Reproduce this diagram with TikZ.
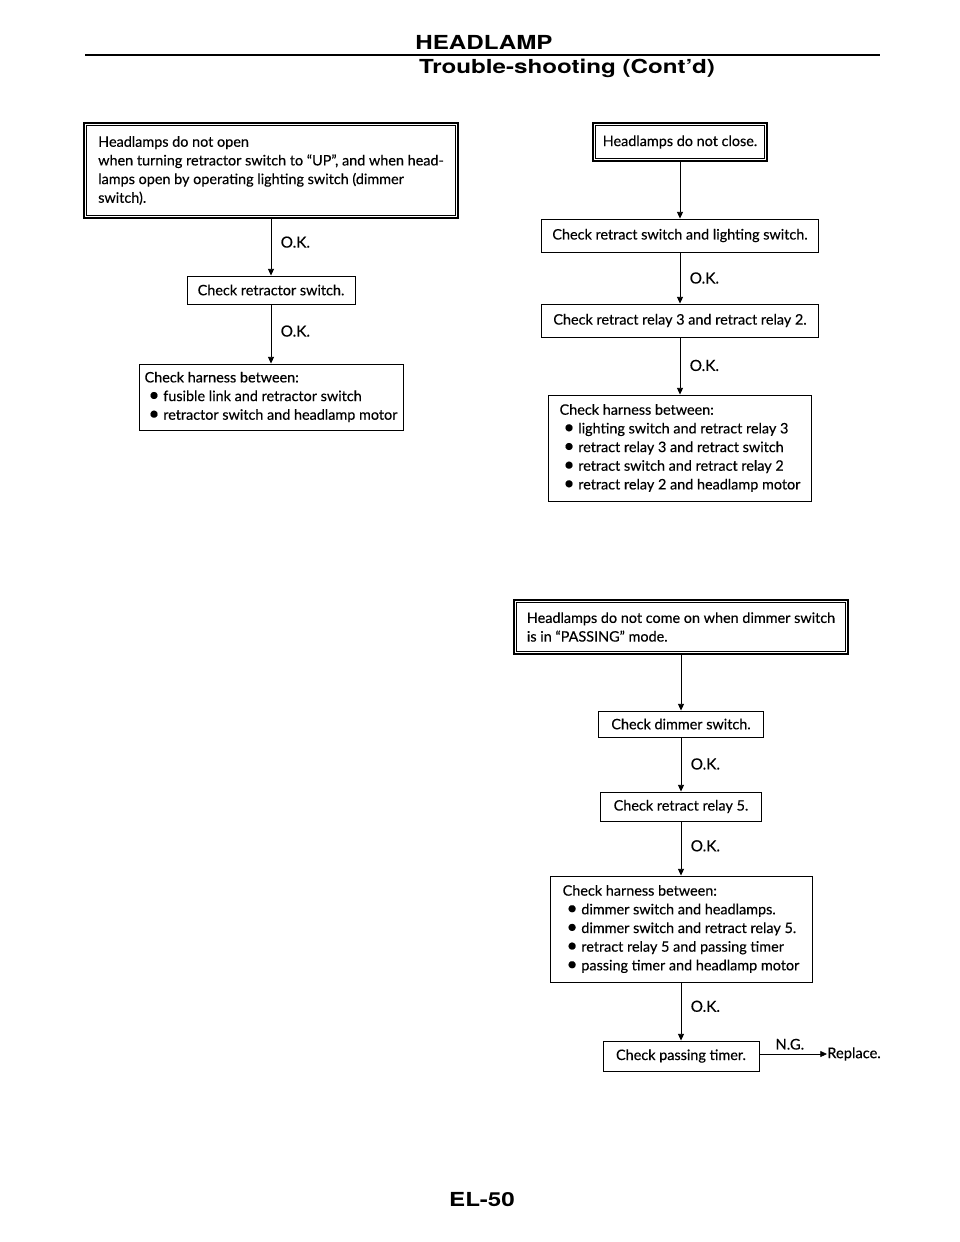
\documentclass[tikz,border=0pt]{standalone}
\usepackage{fontspec}
\setmainfont{Lato}[FakeBold=0.3]
\newfontfamily\headf[FakeStretch=1.25]{TeX Gyre Heros}
\usetikzlibrary{arrows.meta}
\newcommand{\bl}{\hspace*{3pt}\makebox[11pt][l]{\smash{\scalebox{1.3}{\textbullet}}}}
\begin{document}
\begin{tikzpicture}[x=0.75pt,y=-0.75pt,
  box/.style={draw, line width=0.7pt, inner sep=0pt, font=\fontsize{10.8}{14}\selectfont, align=left},
  dbox/.style={box, line width=1.3pt},
  inner/.style={line width=0.6pt},
  arr/.style={-{Triangle[length=5pt,width=4.5pt]}, line width=0.6pt},
  oklab/.style={anchor=west, inner sep=0pt, xshift=7pt, font=\fontsize{11.5}{12}\selectfont},
  ttl/.style={inner sep=0pt, font=\headf\bfseries\fontsize{14.5}{16}\selectfont},
  ]
\useasboundingbox (0,0) rectangle (960,1242);

% header
\node[ttl] (h1) at (484,42) {HEADLAMP};
\draw[line width=2.2pt] (85,55) -- (880,55);
\node[ttl] (h2) at (567,68) {Trouble-shooting (Cont’d)};
\node[ttl] (foot) at (482,1200) {EL-50};

% left column
\node[dbox, minimum width=280.5pt, minimum height=71.25pt] (b1) at (271,170.5)
  {Headlamps do not open\\when turning retractor switch to “UP”, and when head-\\lamps open by operating lighting switch (dimmer\\switch).};
\draw[inner] ([shift={(3,3)}]b1.north west) rectangle ([shift={(-3,-3)}]b1.south east);
\node[box, minimum width=126pt, minimum height=21pt] (b2) at (271,290) {Check retractor switch.};
\node[box, minimum width=198pt, minimum height=49.5pt] (b3) at (271,397)
  {Check harness between:\\\bl fusible link and retractor switch\\\bl retractor switch and headlamp motor};
\draw[arr] (b1.south) -- node[oklab, pos=0.41] {O.K.} (b2.north);
\draw[arr] (b2.south) -- node[oklab, pos=0.45] {O.K.} (b3.north);

% right top column
\node[dbox, minimum width=130.5pt, minimum height=28.5pt] (bA) at (680,142) {Headlamps do not close.};
\draw[inner] ([shift={(3,3)}]bA.north west) rectangle ([shift={(-3,-3)}]bA.south east);
\node[box, minimum width=208pt, minimum height=24.75pt] (bB) at (680,235.5) {Check retract switch and lighting switch.};
\node[box, minimum width=208pt, minimum height=24.75pt] (bC) at (680,320.5) {Check retract relay 3 and retract relay 2.};
\node[box, minimum width=197pt, minimum height=79.5pt] (bD) at (680,448)
  {Check harness between:\\\bl lighting switch and retract relay 3\\\bl retract relay 3 and retract switch\\\bl retract switch and retract relay 2\\\bl retract relay 2 and headlamp motor};
\draw[arr] (bA.south) -- (bB.north);
\draw[arr] (bB.south) -- node[oklab, pos=0.5] {O.K.} (bC.north);
\draw[arr] (bC.south) -- node[oklab, pos=0.49] {O.K.} (bD.north);

% right bottom column
\node[dbox, minimum width=250.5pt, minimum height=40.5pt] (bE) at (681,627)
  {Headlamps do not come on when dimmer switch\\is in “PASSING” mode.};
\draw[inner] ([shift={(3,3)}]bE.north west) rectangle ([shift={(-3,-3)}]bE.south east);
\node[box, minimum width=124pt, minimum height=19.5pt] (bF) at (681,724) {Check dimmer switch.};
\node[box, minimum width=121pt, minimum height=21.75pt] (bG) at (681,806.5) {Check retract relay 5.};
\node[box, minimum width=196.5pt, minimum height=79.5pt] (bH) at (681,929)
  {Check harness between:\\\bl dimmer switch and headlamps.\\\bl dimmer switch and retract relay 5.\\\bl retract relay 5 and passing timer\\\bl passing timer and headlamp motor};
\node[box, minimum width=117pt, minimum height=22.5pt] (bI) at (681,1056) {Check passing timer.};
\node[anchor=west, inner sep=0pt, font=\fontsize{11}{12}\selectfont] (rep) at (827,1054) {Replace.};
\draw[arr] (bE.south) -- (bF.north);
\draw[arr] (bF.south) -- node[oklab, pos=0.49] {O.K.} (bG.north);
\draw[arr] (bG.south) -- node[oklab, pos=0.45] {O.K.} (bH.north);
\draw[arr] (bH.south) -- node[oklab, pos=0.41] {O.K.} (bI.north);
\draw[arr] (bI.east |- rep.west) -- node[above=3pt, pos=0.45, inner sep=0pt, font=\fontsize{11}{12}\selectfont] {N.G.} (rep.west);
\end{tikzpicture}
\end{document}
